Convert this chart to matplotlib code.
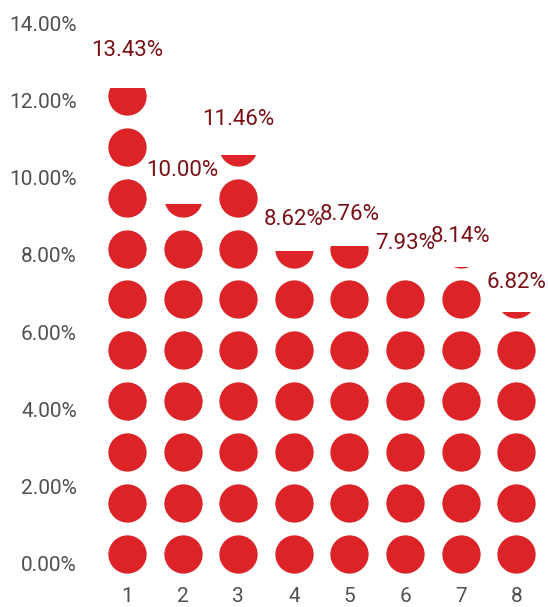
import numpy as np
import matplotlib
matplotlib.use('Agg')
import matplotlib.pyplot as plt
from matplotlib.patches import Rectangle
from matplotlib.ticker import PercentFormatter

plt.rcParams['font.family'] = ['Roboto', 'DejaVu Sans']

# データ
categories = ['1', '2', '3', '4', '5', '6', '7', '8']
values = [13.43, 10.00, 11.46, 8.62, 8.76, 7.93, 8.14, 6.82]
yticks = [0, 2, 4, 6, 8, 10, 12, 14]

# 円マーカーの並び（%単位）
base = 0.246    # 最下段の円の中心
pitch = 1.32    # 円の間隔
dot_size = 760  # points^2
red = '#dc2328'
label_red = '#7a1016'

fig = plt.figure(figsize=(5.48, 6.07), dpi=100)
ax = fig.add_axes([0.181, 0.0713, 0.812, 0.8903])

x = np.arange(len(categories))
for i, v in enumerate(values):
    clip_top = 0.55 + 0.877 * v  # 表示上の切り取り位置
    n = int(np.ceil((clip_top - base) / pitch)) + 1
    ys = base + pitch * np.arange(n)
    sc = ax.scatter(np.full(n, x[i]), ys, s=dot_size, color=red, linewidths=0, zorder=3)
    rect = Rectangle((x[i] - 0.5, -1), 1, clip_top + 1, transform=ax.transData)
    sc.set_clip_path(rect)
    ax.text(x[i], 1.077 + 0.91 * v, f'{v:.2f}%', ha='center', va='center',
            fontsize=16, color=label_red)

ax.set_xlim(-0.5, len(categories) - 0.5)
ax.set_ylim(0, 14)
ax.set_xticks(x)
ax.set_xticklabels(categories)
ax.set_yticks(yticks)
ax.yaxis.set_major_formatter(PercentFormatter(100, decimals=2))
ax.tick_params(axis='y', length=0, pad=16, labelsize=15, labelcolor='#505050')
ax.tick_params(axis='x', length=0, pad=17, labelsize=15, labelcolor='#505050')
for s in ax.spines.values():
    s.set_visible(False)

fig.savefig('out.png', dpi=100)
